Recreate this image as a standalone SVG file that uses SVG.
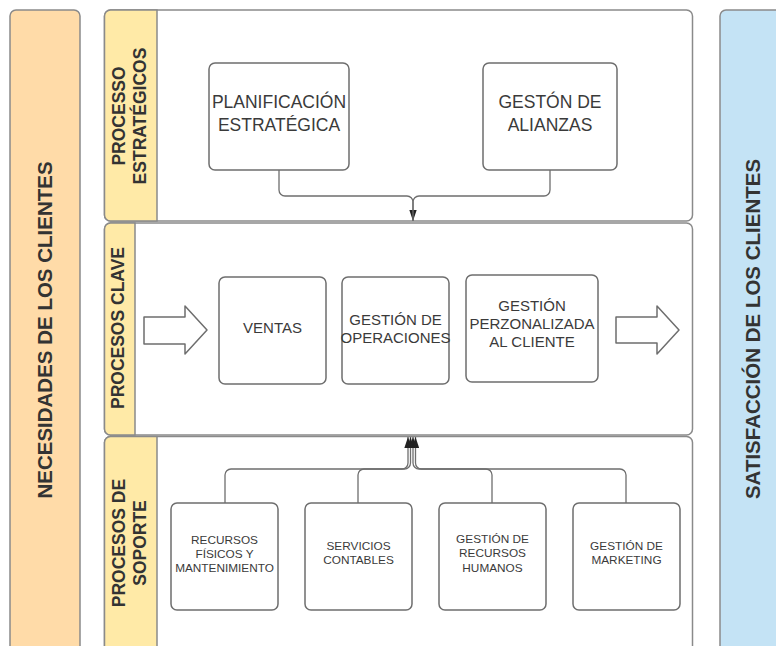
<svg xmlns="http://www.w3.org/2000/svg" width="776" height="646" viewBox="0 0 776 646">
<defs>
<style>
.col{stroke:#8a8a8a;stroke-width:1.5}
.lane{fill:#fff;stroke:#8a8a8a;stroke-width:1.5}
.hdr{fill:#ffeaa7;stroke:#8a8a8a;stroke-width:1.5}
.box{fill:#fff;stroke:#6e6e6e;stroke-width:1.5}
.big{font-family:"Liberation Sans",Arial,sans-serif;font-weight:bold;fill:#333;text-anchor:middle}
.t{font-family:"Liberation Sans",Arial,sans-serif;fill:#3a3a3a;text-anchor:middle}
.conn{fill:none;stroke:#6e6e6e;stroke-width:1.3}
.barrow{fill:#fff;stroke:#6e6e6e;stroke-width:1.5;stroke-linejoin:round}
</style>
<marker id="ah" viewBox="0 0 12 8" refX="12" refY="4" markerWidth="11" markerHeight="7.5" markerUnits="userSpaceOnUse" orient="auto">
<path d="M0,0 L12,4 L0,8 Z" fill="#222"/>
</marker>
</defs>

<g id="necesidades">
<rect class="col" x="10" y="10" width="70" height="660" rx="6" fill="#ffdba8"/>
<text class="big" font-size="20.5" transform="translate(44.5,330) rotate(-90)" y="7.5">NECESIDADES DE LOS CLIENTES</text>
</g>

<g id="satisfaccion">
<rect class="col" x="720" y="10" width="70" height="660" rx="6" fill="#c4e3f5"/>
<text class="big" font-size="20.5" transform="translate(752,329) rotate(-90)" y="7.5">SATISFACCIÓN DE LOS CLIENTES</text>
</g>

<g id="lane-estrategicos">
<rect class="lane" x="104.5" y="10" width="588" height="211" rx="6"/>
<path class="hdr" d="M157,10 H110.5 A6,6 0 0 0 104.5,16 V215 A6,6 0 0 0 110.5,221 H157 Z"/>
<text class="big" font-size="17.5" transform="translate(129,116) rotate(-90)"><tspan x="0" y="-4">PROCESSO</tspan><tspan x="0" y="17">ESTRATÉGICOS</tspan></text>
</g>

<g id="lane-clave">
<rect class="lane" x="104.5" y="223" width="588" height="212" rx="6"/>
<path class="hdr" d="M135,223 H110.5 A6,6 0 0 0 104.5,229 V429 A6,6 0 0 0 110.5,435 H135 Z"/>
<text class="big" font-size="17.5" transform="translate(118,328) rotate(-90)" y="6">PROCESOS CLAVE</text>
</g>

<g id="lane-soporte">
<rect class="lane" x="104.5" y="436.5" width="588" height="240" rx="6"/>
<path class="hdr" d="M157,436.5 H110.5 A6,6 0 0 0 104.5,442.5 V680 H157 Z"/>
<text class="big" font-size="17.5" transform="translate(129,543) rotate(-90)"><tspan x="0" y="-4">PROCESOS DE</tspan><tspan x="0" y="17">SOPORTE</tspan></text>
</g>

<g id="planificacion">
<rect class="box" x="209" y="63" width="140" height="107" rx="6"/>
<text class="t" font-size="17.5"><tspan x="279" y="108">PLANIFICACIÓN</tspan><tspan x="279" y="131">ESTRATÉGICA</tspan></text>
</g>

<g id="alianzas">
<rect class="box" x="483" y="63" width="134" height="107" rx="6"/>
<text class="t" font-size="17.5"><tspan x="550" y="108">GESTÓN DE</tspan><tspan x="550" y="131">ALIANZAS</tspan></text>
</g>

<g id="ventas">
<rect class="box" x="219" y="277" width="107" height="107" rx="6"/>
<text class="t" font-size="15" x="272.5" y="333">VENTAS</text>
</g>

<g id="operaciones">
<rect class="box" x="342" y="277" width="107" height="107" rx="6"/>
<text class="t" font-size="15"><tspan x="395.5" y="325">GESTIÓN DE</tspan><tspan x="395.5" y="343">OPERACIONES</tspan></text>
</g>

<g id="personalizada">
<rect class="box" x="466" y="275" width="132" height="107" rx="6"/>
<text class="t" font-size="15"><tspan x="532" y="311">GESTIÓN</tspan><tspan x="532" y="329">PERZONALIZADA</tspan><tspan x="532" y="347">AL CLIENTE</tspan></text>
</g>

<g id="flecha-entrada">
<path class="barrow" d="M144,317 H185 V306 L207,330 L185,354 V344 H144 Z"/>
</g>
<g id="flecha-salida">
<path class="barrow" d="M616,317 H657 V306 L679,330 L657,354 V343 H616 Z"/>
</g>

<g id="recursos-fisicos">
<rect class="box" x="171" y="503" width="107" height="107" rx="6"/>
<text class="t" font-size="11.8"><tspan x="224.5" y="544">RECURSOS</tspan><tspan x="224.5" y="558">FÍSICOS Y</tspan><tspan x="224.5" y="572">MANTENIMIENTO</tspan></text>
</g>

<g id="servicios-contables">
<rect class="box" x="305" y="503" width="107" height="107" rx="6"/>
<text class="t" font-size="11.8"><tspan x="358.5" y="550">SERVICIOS</tspan><tspan x="358.5" y="564">CONTABLES</tspan></text>
</g>

<g id="recursos-humanos">
<rect class="box" x="439" y="503" width="107" height="107" rx="6"/>
<text class="t" font-size="11.8"><tspan x="492.5" y="543">GESTIÓN DE</tspan><tspan x="492.5" y="557">RECURSOS</tspan><tspan x="492.5" y="572">HUMANOS</tspan></text>
</g>

<g id="marketing">
<rect class="box" x="573" y="503" width="107" height="107" rx="6"/>
<text class="t" font-size="11.8"><tspan x="626.5" y="550">GESTIÓN DE</tspan><tspan x="626.5" y="564">MARKETING</tspan></text>
</g>

<g id="connectors">
<path class="conn" d="M279,170 V190 A6,6 0 0 0 285,196 H407 A6,6 0 0 1 413,202 V221" marker-end="url(#ah)"/>
<path class="conn" d="M550,170 V190 A6,6 0 0 1 544,196 H419 A6,6 0 0 0 413,202 V221"/>
<path class="conn" d="M225,503 V475 A6,6 0 0 1 231,469 H402 A6,6 0 0 0 408,463 V437" marker-end="url(#ah)"/>
<path class="conn" d="M358,503 V475 A6,6 0 0 1 364,469 H404.5 A6,6 0 0 0 410.5,463 V437" marker-end="url(#ah)"/>
<path class="conn" d="M492,503 V475 A6,6 0 0 0 486,469 H419 A6,6 0 0 1 413,463 V437" marker-end="url(#ah)"/>
<path class="conn" d="M626,503 V475 A6,6 0 0 0 620,469 H421.5 A6,6 0 0 1 415.5,463 V437" marker-end="url(#ah)"/>
</g>
</svg>
